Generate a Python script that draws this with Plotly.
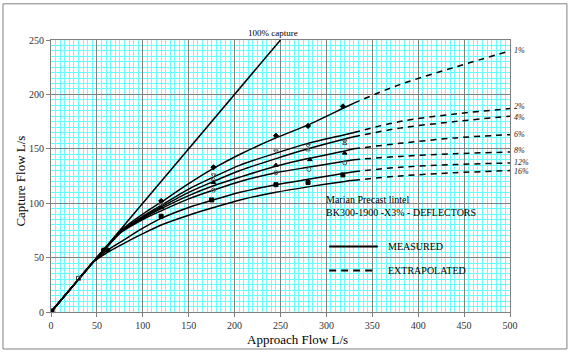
import plotly.graph_objects as go

# ---------------- data ----------------
x_meas = [0, 30, 45, 60, 77, 100, 120, 150, 177, 206, 245, 280, 320, 330]
y_meas = {
    "1%":  [0, 30, 45, 59.5, 75.5, 90, 101, 118, 132, 145, 160, 172, 188, 192],
    "2%":  [0, 30, 45, 59.5, 75, 88, 98, 113, 124, 135, 146, 155, 163, 165],
    "4%":  [0, 30, 45, 59.5, 74.5, 87, 96.5, 110, 120, 130, 141, 150, 159, 161],
    "6%":  [0, 30, 45, 59, 74, 86, 95, 107, 116, 124, 134, 141, 148, 150],
    "8%":  [0, 30, 45, 59, 73.5, 85, 93, 104, 112, 120, 128, 133, 138.5, 140],
    "12%": [0, 30, 45, 56, 65, 77, 86, 96, 103, 110, 117, 122, 127.5, 129],
    "16%": [0, 30, 45, 54, 62, 72, 80, 89, 96, 103, 110, 115, 120, 121],
}
x_ext = [330, 380, 440, 500]
y_ext = {
    "1%":  [192, 209, 225, 240],
    "2%":  [165, 175, 182, 187],
    "4%":  [161, 169, 175, 180],
    "6%":  [150, 155, 160, 163],
    "8%":  [140, 143, 145.5, 147],
    "12%": [129, 133, 135.5, 137],
    "16%": [121, 125, 128, 130],
}
# label positions (value axis) for the right-hand curve labels
label_y = {"1%": 240, "2%": 188.5, "4%": 179, "6%": 163, "8%": 148, "12%": 137.5, "16%": 129}
full_capture_x = [0, 250]
full_capture_y = [0, 250]

# measured points
pts = [
    ("diamond", "black", [120, 177, 245, 280, 318], [102, 133, 162, 171, 189]),
    ("triangle-down-open", "#555555", [120, 177, 245, 280, 320], [99, 126, 148, 153, 157]),
    ("triangle-up-open", "#555555", [177, 280, 320], [122, 149, 155]),
    ("triangle-up", "black", [120, 177, 245, 282, 320], [96, 119, 135, 140, 146]),
    ("circle-open", "#555555", [177, 245, 281, 320], [112, 128, 131, 137]),
    ("square", "black", [120, 175, 245, 280, 318], [88, 103, 117, 119, 126]),
    ("square-open", "#333333", [30], [31]),
    ("circle", "black", [57, 62], [57, 57]),
    ("square", "black", [0], [0]),
]

legend_title = ["Marian Precast lintel", "BK300-1900 -X3% - DEFLECTORS"]
x_ticks = [0, 50, 100, 150, 200, 250, 300, 350, 400, 450, 500]
y_ticks = [0, 50, 100, 150, 200, 250]

SERIF = "Liberation Serif"
Y0, Y1 = 0, 250

fig = go.Figure()

fig.add_trace(go.Scatter(x=full_capture_x, y=full_capture_y, mode="lines",
                         line=dict(color="black", width=1.5), showlegend=False))

for k in y_meas:
    fig.add_trace(go.Scatter(x=x_meas, y=y_meas[k], mode="lines",
                             line=dict(color="black", width=1.5, shape="spline", smoothing=0.8),
                             showlegend=False))
    fig.add_trace(go.Scatter(x=x_ext, y=y_ext[k], mode="lines",
                             line=dict(color="black", width=1.5, dash="6px,5px", shape="spline"),
                             showlegend=False))

for sym, col, xs, ys in pts:
    size = 6 if (xs == [0]) else 4
    fig.add_trace(go.Scatter(x=xs, y=ys, mode="markers",
                             marker=dict(symbol=sym, color=col, size=size,
                                         line=dict(color=col, width=1)),
                             showlegend=False))

# legend sample lines
fig.add_trace(go.Scatter(x=[303, 356], y=[60.2, 60.2], mode="lines",
                         line=dict(color="black", width=2), showlegend=False))
fig.add_trace(go.Scatter(x=[303, 352], y=[38.2, 38.2], mode="lines",
                         line=dict(color="black", width=2, dash="7px,5px"), showlegend=False))

ann = []
for k in label_y:
    ann.append(dict(x=1.004, xref="paper", y=(label_y[k] - Y0) / (Y1 - Y0), yref="paper",
                    text="<i>" + k + "</i>", showarrow=False, xanchor="left",
                    yanchor="middle", font=dict(family=SERIF, size=8, color="#222")))

ann.append(dict(x=242, y=250, text="100% capture", showarrow=False, xanchor="center",
                yanchor="bottom", font=dict(family=SERIF, size=9, color="black")))
ann.append(dict(x=297, y=103, text=legend_title[0], showarrow=False, xanchor="left",
                yanchor="middle", font=dict(family=SERIF, size=10, color="black")))
ann.append(dict(x=297, y=91.5, text=legend_title[1], showarrow=False, xanchor="left",
                yanchor="middle", font=dict(family=SERIF, size=10, color="black")))
ann.append(dict(x=365, y=60.2, text="MEASURED", showarrow=False, xanchor="left",
                yanchor="middle", font=dict(family=SERIF, size=10, color="black")))
ann.append(dict(x=365, y=38.2, text="EXTRAPOLATED", showarrow=False, xanchor="left",
                yanchor="middle", font=dict(family=SERIF, size=10, color="black")))
ann.append(dict(x=0.538, y=-0.102, xref="paper", yref="paper", text="Approach Flow L/s",
                showarrow=False, xanchor="center", yanchor="middle",
                font=dict(family=SERIF, size=13, color="black")))
ann.append(dict(x=-0.066, y=0.482, xref="paper", yref="paper", text="Capture Flow L/s",
                showarrow=False, xanchor="center", yanchor="middle", textangle=-90,
                font=dict(family=SERIF, size=13, color="black")))

fig.update_layout(
    width=575, height=353,
    margin=dict(l=51, r=65, t=40, b=41),
    paper_bgcolor="white", plot_bgcolor="white",
    annotations=ann,
    shapes=[dict(type="rect", xref="paper", yref="paper",
                 x0=-0.1046, x1=1.124, y0=-0.136, y1=1.133,
                 line=dict(color="#808080", width=1), layer="above")],
)
axis_common = dict(
    showline=True, linecolor="#808080", linewidth=1, mirror=True,
    ticks="outside", ticklen=4, tickcolor="#808080",
    gridcolor="#808080", gridwidth=1, zeroline=False,
    tickfont=dict(family=SERIF, size=10, color="#333"),
    minor=dict(showgrid=True, gridcolor="#66FFFF", gridwidth=1),
)
fig.update_xaxes(range=[0, 500], tickvals=x_ticks, **axis_common)
fig.update_xaxes(minor_dtick=5)
fig.update_yaxes(range=[Y0, Y1], tickvals=y_ticks, **axis_common)
fig.update_yaxes(minor_dtick=5)

fig.write_html("out.html")
